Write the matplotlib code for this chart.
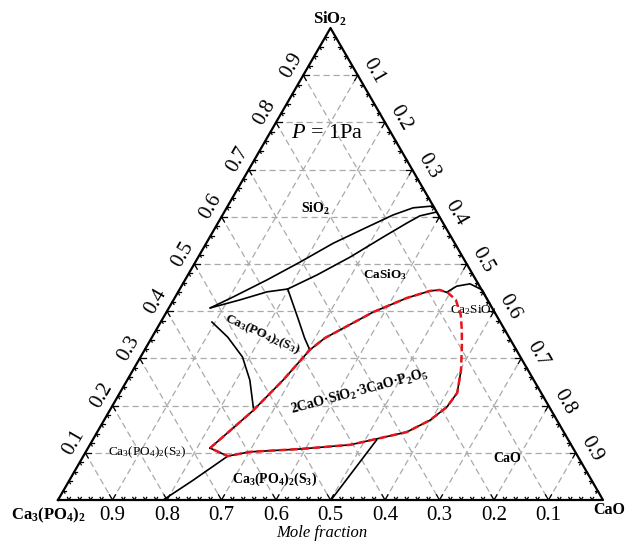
import matplotlib
matplotlib.use('Agg')
import matplotlib.pyplot as plt
import numpy as np

plt.rcParams['font.family'] = 'Liberation Serif'
plt.rcParams['mathtext.fontset'] = 'custom'
plt.rcParams['mathtext.rm'] = 'Liberation Serif'
plt.rcParams['mathtext.it'] = 'Liberation Serif:italic'
plt.rcParams['mathtext.bf'] = 'Liberation Serif:bold'

# Phasengrenzen als Molenbrueche (SiO2, CaO); Ca3(PO4)2 = Rest
sio2_upper = [0.407, 0.430, 0.466, 0.504, 0.544, 0.578, 0.604, 0.619, 0.623]
cao_upper = [0.076, 0.106, 0.150, 0.192, 0.233, 0.278, 0.313, 0.342, 0.377]

sio2_lower = [0.407, 0.424, 0.441, 0.447, 0.477, 0.515, 0.557, 0.587, 0.602, 0.610]
cao_lower = [0.076, 0.122, 0.163, 0.198, 0.237, 0.279, 0.318, 0.347, 0.363, 0.389]

sio2_s3_div = [0.447, 0.386, 0.343, 0.318]
cao_s3_div = [0.198, 0.247, 0.281, 0.303]

sio2_s2_arc = [0.377, 0.345, 0.303, 0.254, 0.195]
cao_s2_arc = [0.094, 0.139, 0.187, 0.225, 0.261]

sio2_loop = [0.110, 0.189, 0.254, 0.318, 0.343, 0.360, 0.398, 0.428, 0.443, 0.445,
             0.439, 0.424, 0.392, 0.360, 0.324, 0.275, 0.227, 0.197, 0.169, 0.144,
             0.131, 0.117, 0.108, 0.102, 0.093, 0.110]
cao_loop = [0.224, 0.263, 0.286, 0.303, 0.318, 0.337, 0.379, 0.426, 0.461, 0.478,
            0.496, 0.518, 0.543, 0.561, 0.579, 0.602, 0.619, 0.615, 0.598, 0.568,
            0.525, 0.478, 0.390, 0.301, 0.265, 0.224]

sio2_s2s3 = [0.093, 0.042, 0.0]
cao_s2s3 = [0.265, 0.227, 0.193]

sio2_s3cao = [0.127, 0.0]
cao_s3cao = [0.521, 0.501]

sio2_c2s = [0.441, 0.453, 0.458, 0.445, 0.409]
cao_c2s = [0.494, 0.505, 0.527, 0.556, 0.591]

tick_vals = [0.1, 0.2, 0.3, 0.4, 0.5, 0.6, 0.7, 0.8, 0.9]

H = np.sqrt(3) / 2
PX = 1 / 545.0  # ein Pixel in Datenkoordinaten


def tern(sio2, cao):
    sio2 = np.asarray(sio2, float)
    cao = np.asarray(cao, float)
    return cao + sio2 / 2, sio2 * H


fig = plt.figure(figsize=(6.29, 5.42), dpi=100)
ax = fig.add_axes([0, 0, 1, 1])
ax.set_xlim(-58 * PX, 571 * PX)
ax.set_ylim(-42 * PX, 500 * PX)
ax.axis('off')

# Gitterlinien
grid_kw = dict(color='#aaaaaa', lw=0.9, dashes=(5, 3), zorder=1)
for v in tick_vals:
    ax.plot(*tern([v, v], [0, 1 - v]), **grid_kw)
    ax.plot(*tern([0, 1 - v], [v, v]), **grid_kw)
    ax.plot(*tern([1 - v, 0], [0, 1 - v]), **grid_kw)

# Dreieck
ax.plot(*tern([0, 0, 1, 0], [0, 1, 0, 0]), color='black', lw=1.6, zorder=3)

# Ticks
for i in range(1, 50):
    v = i / 50
    major = i % 5 == 0
    L = (6 if major else 3) * PX
    edges = [
        (tern(0, v), [(0.5, H), (-0.5, H)]),
        (tern(v, 0), [(1, 0), (0.5, -H)]),
        (tern(1 - v, v), [(-0.5, -H), (-1, 0)]),
    ]
    for (x0, y0), dirs in edges:
        for dx, dy in dirs:
            ax.plot([x0, x0 + L * dx], [y0, y0 + L * dy], color='black', lw=0.9, zorder=3)

# Tick-Beschriftungen
tfs = 15
for v in tick_vals:
    x0, y0 = tern(0, v)
    ax.text(x0, y0 - 16 * PX, f'{1 - v:.1f}', ha='center', va='center', fontsize=tfs)
    x0, y0 = tern(v, 0)
    ax.text(x0 - 11 * PX, y0 + 10 * PX, f'{v:.1f}', ha='center', va='center',
            fontsize=tfs, rotation=60)
    x0, y0 = tern(1 - v, v)
    ax.text(x0 + 16 * PX, y0 + 4 * PX, f'{v:.1f}', ha='center', va='center',
            fontsize=tfs, rotation=-60)

# Phasengrenzen
line_kw = dict(color='black', lw=1.2, zorder=4)
ax.plot(*tern(sio2_upper, cao_upper), **line_kw)
ax.plot(*tern(sio2_lower, cao_lower), **line_kw)
ax.plot(*tern(sio2_s3_div, cao_s3_div), **line_kw)
ax.plot(*tern(sio2_s2_arc, cao_s2_arc), **line_kw)
ax.plot(*tern(sio2_s2s3, cao_s2s3), **line_kw)
ax.plot(*tern(sio2_s3cao, cao_s3cao), **line_kw)
ax.plot(*tern(sio2_c2s, cao_c2s), **line_kw)
ax.plot(*tern(sio2_loop[:11], cao_loop[:11]), **line_kw)
ax.plot(*tern(sio2_loop[15:], cao_loop[15:]), **line_kw)
ax.plot(*tern(sio2_loop, cao_loop), color='#e8141c', lw=1.8, dashes=(3, 1.5), zorder=5)


def px(X, Y):
    return (X - 58) * PX, (500 - Y) * PX


# Beschriftungen
ax.text(*px(330, 19), r'SiO$_\mathbf{2}$', ha='center', va='center', fontsize=12, fontweight='bold')
ax.text(*px(48, 515), r'Ca$_\mathbf{3}$(PO$_\mathbf{4}$)$_\mathbf{2}$', ha='center', va='center',
        fontsize=12, fontweight='bold')
ax.text(*px(609, 510), 'CaO', ha='center', va='center', fontsize=11.5, fontweight='bold')
ax.text(*px(322, 533), 'Mole fraction', ha='center', va='center', fontsize=12, style='italic')
ax.text(*px(327, 134), r'$P$ = 1Pa', ha='center', va='center', fontsize=16)
ax.text(*px(315, 209), r'SiO$_\mathbf{2}$', ha='center', va='center', fontsize=10, fontweight='bold')
ax.text(*px(385, 275), r'CaSiO$_\mathbf{3}$', ha='center', va='center', fontsize=9.5, fontweight='bold')
ax.text(*px(474, 310), r'Ca$_2$SiO$_4$', ha='center', va='center', fontsize=9.5)
ax.text(*px(262, 334), r'Ca$_\mathbf{3}$(PO$_\mathbf{4}$)$_\mathbf{2}$(S$_\mathbf{3}$)', ha='center',
        va='center', fontsize=9.5, fontweight='bold', rotation=-24)
ax.text(*px(147, 452), r'Ca$_3$(PO$_4$)$_2$(S$_2$)', ha='center', va='center', fontsize=9.5)
ax.text(*px(275, 479), r'Ca$_\mathbf{3}$(PO$_\mathbf{4}$)$_\mathbf{2}$(S$_\mathbf{3}$)', ha='center',
        va='center', fontsize=10, fontweight='bold')
ax.text(*px(360, 392), r'2CaO·SiO$_\mathbf{2}$·3CaO·P$_\mathbf{2}$O$_\mathbf{5}$', ha='center',
        va='center', fontsize=10, fontweight='bold', rotation=15)
ax.text(*px(507, 458), 'CaO', ha='center', va='center', fontsize=10, fontweight='bold')

fig.savefig('out.png', dpi=100)
